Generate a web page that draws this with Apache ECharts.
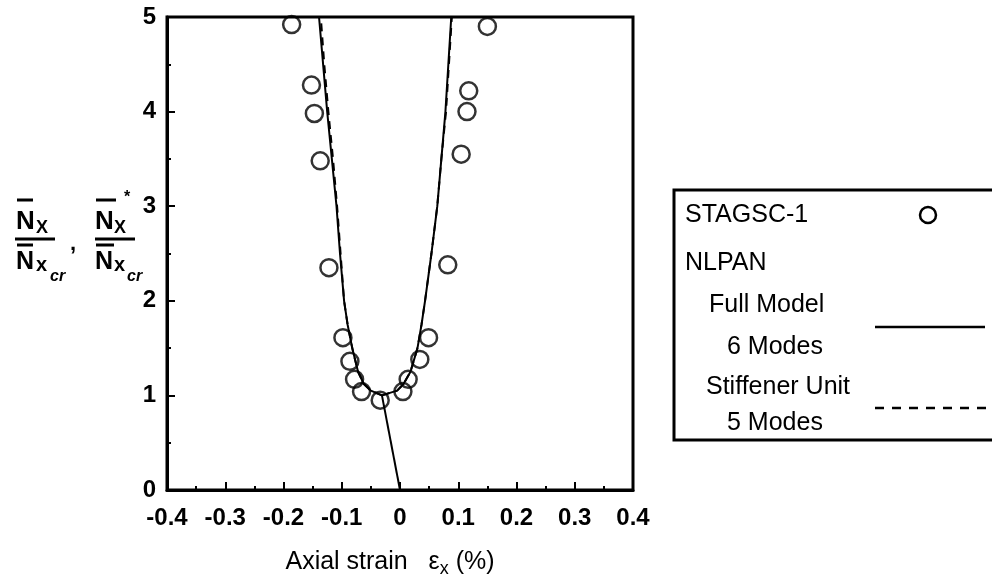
<!DOCTYPE html>
<html>
<head>
<meta charset="utf-8">
<style>
    html, body { margin: 0; padding: 0; background: #fff; }
    #chart { width: 992px; height: 583px; }
</style>
<script src="https://cdn.jsdelivr.net/npm/echarts@6/dist/echarts.min.js"></script>
</head>
<body>
<div id="chart"></div>
<script>
    // STAGSC-1 points
    const stagscX = [-0.186, -0.152, -0.147, -0.137, -0.122, -0.098, -0.086, -0.078, -0.066, -0.034,
        0.005, 0.014, 0.034, 0.049, 0.082, 0.105, 0.115, 0.118, 0.150];
    const stagscY = [4.92, 4.28, 3.98, 3.48, 2.35, 1.61, 1.36, 1.17, 1.04, 0.95,
        1.04, 1.17, 1.38, 1.61, 2.38, 3.55, 4.0, 4.22, 4.90];

    // NLPAN full model, 6 modes
    const preX = [0.0, -0.031];
    const preY = [0, 1.0];
    const branchY = [1.0, 1.05, 1.12, 1.25, 1.5, 1.75, 2.0, 2.5, 3.0, 3.5, 4.0, 4.5, 5.0];
    const fullLeftX = [-0.031, -0.05, -0.062, -0.072, -0.082, -0.09, -0.096, -0.103, -0.109, -0.117, -0.125, -0.132, -0.139];
    const fullRightX = [-0.031, -0.005, 0.006, 0.018, 0.03, 0.037, 0.043, 0.054, 0.064, 0.071, 0.078, 0.083, 0.088];

    // NLPAN stiffener unit, 5 modes
    const stiffLeftX = [-0.031, -0.05, -0.062, -0.072, -0.082, -0.09, -0.096, -0.102, -0.108, -0.115, -0.123, -0.130, -0.136];
    const stiffRightX = [-0.031, -0.005, 0.006, 0.018, 0.03, 0.037, 0.043, 0.054, 0.064, 0.071, 0.079, 0.084, 0.089];

    const xTicks = [-0.4, -0.3, -0.2, -0.1, 0, 0.1, 0.2, 0.3, 0.4];
    const yTicks = [0, 1, 2, 3, 4, 5];

    const pairs = (xs, ys) => xs.map((x, i) => [x, ys[i]]);
    const font = 'Liberation Sans, Arial, sans-serif';

    const myChart = echarts.init(document.getElementById('chart'), null, { renderer: 'canvas' });

    const lineSeries = (xs, ys, dashed) => ({
        type: 'line',
        data: pairs(xs, ys),
        symbol: 'none',
        lineStyle: { color: '#000', width: 2, type: dashed ? [8, 6] : 'solid' },
        z: dashed ? 3 : 2,
        animation: false
    });

    // text / line helpers for the graphic layer
    const t = (text, x, y, size, weight, style) => ({
        type: 'text', x: x, y: y,
        style: {
            text: text,
            font: (style || 'normal') + ' ' + (weight || 'normal') + ' ' + size + 'px ' + font,
            fill: '#000', verticalAlign: 'middle'
        }
    });
    const l = (x1, y1, x2, y2, w, dash) => ({
        type: 'line', shape: { x1: x1, y1: y1, x2: x2, y2: y2 },
        style: { stroke: '#000', lineWidth: w || 2.5, lineDash: dash || null }
    });

    const graphic = [
        // y label, fraction 1
        l(17, 200, 33, 200, 3), t('N', 16, 222, 26, 'bold'), t('X', 36, 228, 18, 'bold'),
        l(15, 239, 55, 239, 3),
        l(17, 245, 33, 245, 3), t('N', 16, 262, 25, 'bold'), t('x', 36, 265, 20, 'bold'), t('cr', 50, 277, 16, 'bold', 'italic'),
        t(',', 70, 244, 22, 'bold'),
        // y label, fraction 2
        l(96, 200, 116, 200, 3), t('N', 95, 222, 26, 'bold'), t('X', 114, 228, 18, 'bold'), t('*', 124, 198, 16, 'bold'),
        l(95, 239, 135, 239, 3),
        l(96, 245, 114, 245, 3), t('N', 95, 262, 25, 'bold'), t('x', 114, 265, 20, 'bold'), t('cr', 127, 277, 16, 'bold', 'italic'),

        // legend box
        { type: 'rect', shape: { x: 674, y: 190, width: 340, height: 250 }, style: { fill: 'none', stroke: '#000', lineWidth: 3 } },
        t('STAGSC-1', 685, 215, 25),
        { type: 'circle', shape: { cx: 928, cy: 215, r: 8 }, style: { fill: '#fff', stroke: '#000', lineWidth: 2.5 } },
        t('NLPAN', 685, 263, 25),
        t('Full Model', 709, 305, 25),
        l(875, 327, 985, 327, 2.5),
        t('6 Modes', 727, 347, 25),
        t('Stiffener Unit', 706, 387, 25),
        l(875, 408, 992, 408, 2.5, [9, 8]),
        t('5 Modes', 727, 423, 25)
    ];

    const option = {
        backgroundColor: '#fff',
        animation: false,
        grid: {
            left: 167, right: 359, top: 17, bottom: 85,
            show: true, borderColor: '#000', borderWidth: 3
        },
        xAxis: {
            type: 'value',
            min: xTicks[0], max: xTicks[xTicks.length - 1], interval: 0.1,
            name: '{a|Axial strain   ε}{s|x}{a| (%)}',
            nameLocation: 'middle',
            nameGap: 56,
            nameTextStyle: {
                padding: [0, 20, 0, 0],
                rich: {
                    a: { fontFamily: font, fontSize: 25, color: '#000' },
                    s: { fontFamily: font, fontSize: 18, color: '#000', padding: [14, 0, 0, 0] }
                }
            },
            axisLine: { onZero: false, lineStyle: { color: '#000', width: 3 } },
            axisTick: { inside: true, length: 8, lineStyle: { color: '#000', width: 2 } },
            minorTick: { show: true, splitNumber: 2, length: 4, lineStyle: { color: '#000', width: 2 } },
            splitLine: { show: false },
            axisLabel: {
                margin: 16, fontFamily: font, fontSize: 24, fontWeight: 'bold', color: '#000',
                formatter: v => (Math.round(v * 10) / 10).toString()
            }
        },
        yAxis: {
            type: 'value',
            min: yTicks[0], max: yTicks[yTicks.length - 1], interval: 1,
            axisLine: { onZero: false, lineStyle: { color: '#000', width: 3 } },
            axisTick: { inside: true, length: 8, lineStyle: { color: '#000', width: 2 } },
            minorTick: { show: true, splitNumber: 2, length: 4, lineStyle: { color: '#000', width: 2 } },
            splitLine: { show: false },
            axisLabel: { margin: 11, fontFamily: font, fontSize: 24, fontWeight: 'bold', color: '#000' }
        },
        series: [
            lineSeries(preX, preY, false),
            lineSeries(fullLeftX, branchY, false),
            lineSeries(fullRightX, branchY, false),
            lineSeries(stiffLeftX, branchY, true),
            lineSeries(stiffRightX, branchY, true),
            {
                type: 'scatter',
                data: pairs(stagscX, stagscY),
                symbol: 'circle',
                symbolSize: 17,
                itemStyle: { color: 'rgba(255,255,255,0)', borderColor: '#000', borderWidth: 2.5 },
                z: 4
            }
        ],
        graphic: graphic
    };

    myChart.setOption(option);
</script>
</body>
</html>
